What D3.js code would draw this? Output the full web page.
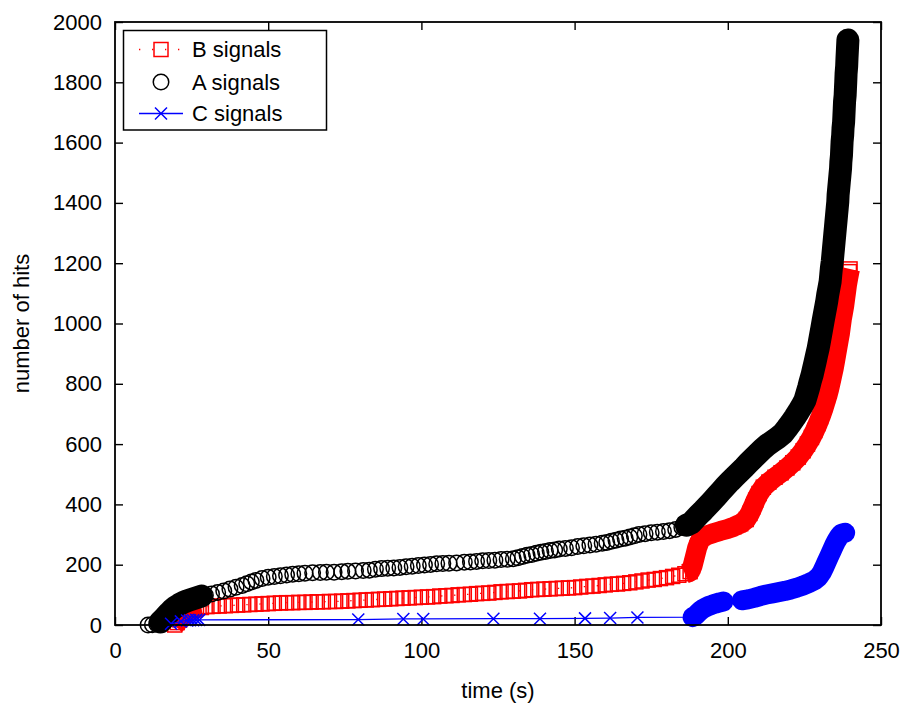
<!DOCTYPE html>
<html><head><meta charset="utf-8">
<script src="https://cdn.jsdelivr.net/npm/d3@7"></script>
<style>body{margin:0;background:#fff}</style>
</head><body><svg id="c" width="903" height="704"></svg>
<script>
const xTicks = [0, 50, 100, 150, 200, 250];
const yTicks = [0, 200, 400, 600, 800, 1000, 1200, 1400, 1600, 1800, 2000];
const xTitle = "time (s)";
const yTitle = "number of hits";
const seriesNames = ["B signals", "A signals", "C signals"];

// [time (s), cumulative hits]
const bSignals = [[19.5,0],[20.3,8],[21.1,17],[22,27],[23,37],[24,45],[25.2,51],[26.6,55],[28.2,58],[30,61],[32,62],[34,63],[36,64],[38,65],[40,66],[42,67],[44,68],[46,69],[48,70],[50,71],[52,72],[54,73],[56,74],[58,74],[60,75],[62,75],[64,76],[66,77],[68,77],[70,78],[72,78],[74,79],[76,80],[78,81],[80,82],[82,83],[84,84],[86,85],[88,86],[90,87],[92,88],[94,89],[96,90],[98,91],[100,92],[102,93],[104,94],[106,96],[108,97],[110,98],[112,100],[114,101],[116,102],[118,104],[120,105],[122,106],[124,108],[126,110],[128,111],[130,112],[132,113],[134,115],[136,117],[138,118],[140,119],[142,120],[144,121],[146,122],[148,123],[150,124],[152,126],[154,128],[156,129],[158,131],[160,133],[162,135],[164,136],[166,138],[168,140],[170,143],[172,146],[174,149],[176,151],[178,154],[180,157],[182,161],[184,165],[186,170],[187.7,177],[188.5,196],[189,216],[189.5,236],[190,256],[190.7,275],[191.6,290],[193.4,298],[195.4,305],[197.6,312],[199.8,318],[202,326],[204.2,336],[206,350],[207.2,370],[208.2,392],[209.1,414],[210.2,436],[211.6,457],[213.4,474],[215.4,490],[217.4,505],[219.3,521],[221.2,538],[223,557],[224.6,578],[226,600],[227.3,622],[228.4,645],[229.4,668],[230.3,691],[231.1,714],[231.8,737],[232.5,760],[233.1,783],[233.6,806],[234.1,829],[234.6,852],[235,875],[235.4,898],[235.8,921],[236.2,944],[236.6,967],[236.9,990],[237.2,1013],[237.6,1036],[238,1059],[238.3,1082],[238.6,1105],[238.9,1128],[239.3,1151],[239.7,1172],[239.9,1181]];

const aSignals = [[10.8,0],[12.2,1],[13.6,3],[14.8,10],[15.8,20],[16.8,31],[17.8,42],[18.8,52],[19.8,60],[21,68],[22.3,75],[23.7,81],[25.2,86],[26.7,91],[28.2,96],[29.5,99],[31.5,103],[33.5,108],[35.5,113],[37.5,119],[39.5,125],[41.5,131],[43,137],[44.5,143],[46,148],[48,154],[50,158],[52,161],[54,163],[56,166],[58,168],[60,170],[62,172],[64.5,173],[67,174],[69,175],[71.5,175],[74,177],[76,178],[78.5,179],[81,181],[83,182],[85,185],[87,187],[89,188],[91,189],[93,191],[95,193],[97,195],[99,197],[101,199],[103,201],[105,203],[107,204],[109,205],[111.5,206],[114,208],[116,209],[118,211],[120,213],[122,214],[124,215],[126,217],[128,218],[130,220],[131.5,223],[133,227],[134.5,231],[136,234],[137.5,238],[139,241],[140.5,244],[142,247],[143.5,249],[145,252],[147,254],[149,256],[151,260],[153,263],[155,265],[157,268],[159,271],[160.5,274],[162,278],[163.5,281],[165,285],[166.5,288],[168,292],[169.5,296],[171,300],[173,303],[175,306],[177,308],[179,310],[181,313],[183,317],[185,324],[186.5,331],[188,338],[189.3,352],[190.6,366],[192,380],[193.4,395],[194.8,410],[196.3,427],[197.8,444],[199.3,461],[200.8,477],[202.3,492],[203.8,507],[205.3,522],[206.8,538],[208.3,553],[209.8,568],[211.3,583],[212.9,597],[214.6,609],[216.3,621],[217.9,634],[219.3,652],[220.6,670],[221.9,689],[223.1,708],[224.2,727],[225.2,746],[225.8,767],[226.4,788],[226.9,808],[227.5,829],[228,851],[228.5,873],[229,896],[229.5,918],[229.9,940],[230.3,963],[230.7,985],[231.1,1008],[231.5,1030],[231.9,1052],[232.3,1074],[232.6,1095],[233,1117],[233.4,1139],[233.6,1161],[233.8,1183],[234.1,1206],[234.3,1228],[234.5,1250],[234.7,1272],[234.9,1294],[235.1,1316],[235.3,1338],[235.5,1360],[235.7,1382],[235.9,1404],[236,1426],[236.2,1448],[236.4,1470],[236.6,1492],[236.8,1514],[236.9,1536],[237.1,1558],[237.2,1581],[237.3,1603],[237.5,1625],[237.6,1647],[237.8,1668],[237.9,1690],[238,1712],[238.1,1735],[238.3,1757],[238.4,1780],[238.5,1802],[238.6,1828],[238.8,1854],[238.9,1880],[239.05,1910],[239.2,1940]];

const cSignals = [[18.3,4],[21.5,12],[23.5,15],[24.5,16],[25.5,16],[26.5,17],[27.5,17],[79.4,18],[94.1,20],[100.6,20],[123.5,21],[138.7,21],[153.4,22],[161.6,23],[170.5,25],[188.5,26],[189.5,32],[190.3,40],[191,47],[191.8,53],[192.7,58],[193.7,63],[194.8,67],[196,71],[197.3,75],[198.6,78],[201.6,80],[204.6,82],[206.6,85],[208.6,90],[210.6,96],[212.6,101],[214.6,105],[216.6,109],[218.6,113],[220.6,118],[222.6,124],[224.6,131],[226.5,139],[228.3,148],[229.7,160],[230.7,175],[231.5,192],[232.3,210],[233.1,228],[233.9,246],[234.7,264],[235.5,280],[236.3,293],[237.1,303],[238.3,306]];

// time spans (s) where hits arrive so fast that markers merge into a solid trail
const bBursts = [[19, 28.5], [185.5, 240]];
const aBursts = [[14, 28.5], [186, 240]];
const cBursts = [[188, 199], [204, 240]];

const FONT = '"Liberation Sans", Arial, Helvetica, sans-serif';
const svg = d3.select("#c");
const L = 115, R = 881, T = 22, B = 625;
const x = d3.scaleLinear().domain([0, 250]).range([L, R]);
const y = d3.scaleLinear().domain([0, 2000]).range([B, T]);

function styleAxis(g, showText) {
  g.select(".domain").remove();
  g.selectAll(".tick line").attr("stroke", "#000").attr("stroke-width", 1.4);
  g.selectAll(".tick text").attr("fill", "#000").style("font-family", FONT).style("font-size", "22px");
  if (!showText) g.selectAll(".tick text").remove();
}
svg.append("g").attr("transform", `translate(0,${B})`)
  .call(d3.axisBottom(x).tickValues(xTicks).tickSizeInner(-8).tickSizeOuter(0).tickPadding(17).tickFormat(d3.format("d")))
  .call(g => styleAxis(g, true));
svg.append("g").attr("transform", `translate(0,${T})`)
  .call(d3.axisTop(x).tickValues(xTicks).tickSizeInner(-8).tickSizeOuter(0))
  .call(g => styleAxis(g, false));
svg.append("g").attr("transform", `translate(${L},0)`)
  .call(d3.axisLeft(y).tickValues(yTicks).tickSizeInner(-8).tickSizeOuter(0).tickPadding(13).tickFormat(d3.format("d")))
  .call(g => styleAxis(g, true));
svg.append("g").attr("transform", `translate(${R},0)`)
  .call(d3.axisRight(y).tickValues(yTicks).tickSizeInner(-8).tickSizeOuter(0))
  .call(g => styleAxis(g, false));

svg.append("text").attr("x", (L + R) / 2).attr("y", 698).attr("text-anchor", "middle")
  .style("font-family", FONT).style("font-size", "22px").text(xTitle);
svg.append("text").attr("transform", `translate(29,${(T + B) / 2}) rotate(-90)`).attr("text-anchor", "middle")
  .style("font-family", FONT).style("font-size", "22px").text(yTitle);

const R_CIRC = 7.75, SQ = 14, XH = 6, SW = 1.5;
const markers = {
  square: (g, c) => g.append("rect").attr("x", -SQ/2).attr("y", -SQ/2).attr("width", SQ).attr("height", SQ)
      .attr("fill", "none").attr("stroke", c).attr("stroke-width", SW),
  circle: (g, c) => g.append("circle").attr("r", R_CIRC).attr("fill", "none").attr("stroke", c).attr("stroke-width", SW),
  cross: (g, c) => g.append("path").attr("d", `M${-XH},${-XH}L${XH},${XH}M${-XH},${XH}L${XH},${-XH}`)
      .attr("fill", "none").attr("stroke", c).attr("stroke-width", SW)
};

const series = [
  { name: seriesNames[0], data: bSignals, bursts: bBursts, color: "#ff0000", marker: "square", dash: "1.3,11.7", lineW: 1.3, trailW: 20, cap: "butt" },
  { name: seriesNames[1], data: aSignals, bursts: aBursts, color: "#000000", marker: "circle", dash: null, lineW: 0, trailW: 23, cap: "round" },
  { name: seriesNames[2], data: cSignals, bursts: cBursts, color: "#0000ff", marker: "cross", dash: null, lineW: 1.3, trailW: 20, cap: "round" }
];

const line = d3.line().x(d => x(d[0])).y(d => y(d[1]));
const plot = svg.append("g");

series.forEach(s => {
  const g = plot.append("g");
  const runs = s.bursts.map(([t0, t1]) => s.data.filter(d => d[0] >= t0 && d[0] <= t1)).filter(r => r.length > 1);
  if (s.lineW > 0) {
    g.append("path").attr("d", line(s.data)).attr("fill", "none").attr("stroke", s.color)
      .attr("stroke-width", s.lineW).attr("stroke-dasharray", s.dash);
  }
  g.selectAll("path.trail").data(runs).join("path").attr("class", "trail")
    .attr("d", line).attr("fill", "none").attr("stroke", s.color)
    .attr("stroke-width", s.trailW).attr("stroke-linecap", s.cap).attr("stroke-linejoin", "round");
  s.data.forEach(d => {
    const m = g.append("g").attr("transform", `translate(${x(d[0])},${y(d[1])})`);
    markers[s.marker](m, s.color);
  });
});

svg.append("rect").attr("x", L).attr("y", T).attr("width", R - L).attr("height", B - T)
  .attr("fill", "none").attr("stroke", "#000").attr("stroke-width", 1.8);

const lg = svg.append("g");
lg.append("rect").attr("x", 123.5).attr("y", 30.5).attr("width", 203).attr("height", 99.5)
  .attr("fill", "#fff").attr("stroke", "#000").attr("stroke-width", 1.5);
const rowY = [49.5, 82, 113.5];
series.forEach((s, i) => {
  const ry = rowY[i];
  if (s.lineW > 0) {
    lg.append("line").attr("x1", 139).attr("x2", 183).attr("y1", ry).attr("y2", ry)
      .attr("stroke", s.color).attr("stroke-width", s.lineW).attr("stroke-dasharray", s.dash);
  }
  const m = lg.append("g").attr("transform", `translate(161,${ry})`);
  markers[s.marker](m, s.color);
  lg.append("text").attr("x", 192).attr("y", ry).attr("dy", "0.36em")
    .style("font-family", FONT).style("font-size", "22px").attr("fill", "#000").text(s.name);
});
</script>
</body></html>
